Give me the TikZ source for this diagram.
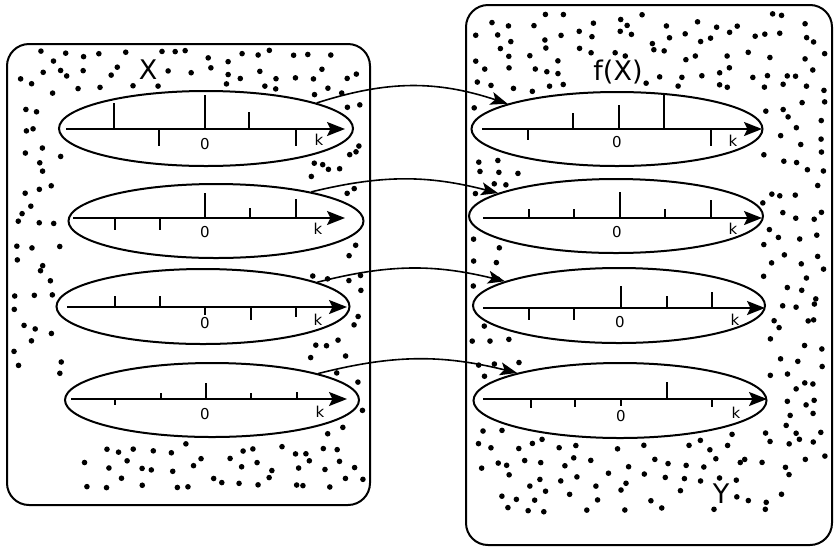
\documentclass[tikz,border=0pt]{standalone}
\usepackage{fontspec}
\setmainfont{DejaVu Sans}
\usetikzlibrary{shapes.geometric,arrows.meta}

% one k-axis: name, x start, x tip, axis y, ticks (x/offset), zero label x,y, k label x,y
\newcommand\kaxis[9]{%
  \draw[axisarrow] (#2,#4) -- (#3,#4);
  \foreach \tx/\tl in {#5} \draw (\tx,#4) -- ++(0,\tl);
  \node[smalllabel] (#1zero) at (#6,#7) {0};
  \node[smalllabel] (#1k) at (#8,#9) {k};
}

% points of a set: a jittered grid (origin x,y; columns; rows; forbidden zone),
% kept clear of the slices and the set labels
\newcommand\jitterdots[5]{%
  \foreach \i in {1,...,#3}{%
    \foreach \j in {1,...,#4}{%
      \pgfmathsetmacro\px{#1+(\i-1+0.1+0.8*rnd)*17}%
      \pgfmathsetmacro\py{#2+(\j-1+0.1+0.8*rnd)*17}%
      \pgfmathsetmacro\clear{min(
        ((\px-206)/153)^2+((\py-128.5)/43)^2,
        ((\px-216)/154)^2+((\py-221)/43)^2,
        ((\px-203)/152)^2+((\py-306.5)/43)^2,
        ((\px-212)/153)^2+((\py-400)/43)^2,
        ((\px-617)/151)^2+((\py-129)/43)^2,
        ((\px-616)/153)^2+((\py-216)/43)^2,
        ((\px-619)/152)^2+((\py-305.5)/43)^2,
        ((\px-620)/152)^2+((\py-400.5)/43)^2,
        ((\px-148)/20)^2+((\py-70)/17)^2,
        ((\px-722)/15)^2+((\py-494)/15)^2)}%
      \pgfmathtruncatemacro\keep{(\clear>1) && !(#5) && (rnd>0.1)}%
      \ifnum\keep=1 \fill[speck] (\px,\py) circle[radius=2.8];\fi
    }}}

\begin{document}
\begin{tikzpicture}[x=1pt,y=-1pt,line width=2pt,
  setbox/.style={draw,rectangle,rounded corners=22pt,inner sep=0pt},
  slice/.style={draw,ellipse,inner sep=0pt},
  axisarrow/.style={-{Stealth[length=18pt,width=14pt,inset=3.5pt]}},
  mapsto/.style={line width=1.6pt,-{Stealth[length=17pt,width=13pt,inset=4pt]}},
  speck/.style={fill=black},
  biglabel/.style={font=\fontsize{27}{30}\selectfont,inner sep=0pt},
  smalllabel/.style={font=\fontsize{15}{17}\selectfont,inner sep=0pt}]

\useasboundingbox (0,0) rectangle (834,547);

% the two sets
\node[setbox,minimum width=363pt,minimum height=461pt] (X) at (188.5,274.5) {};
\node[setbox,minimum width=366pt,minimum height=540pt] (Y) at (649,275) {};

\pgfmathsetseed{2718}
\jitterdots{12}{48}{21}{26}{(\px>66 && \px<310 && \py>90 && \py<440) || (\px<78 && \py>378)
  || (\py>488) || (\px>363) || (\px<24 && \py<62) || (\px>350 && \py<62)}
\jitterdots{470}{12}{21}{30}{(\px>523 && \px<762 && \py>92 && \py<432) || (\py>512)
  || (\px<500 && \py>485) || (\px>790 && \py>462) || (\px>826)
  || (((\px-618)/38)^2+((\py-72)/16)^2<1) || (\px<488 && \py<24) || (\px>812 && \py<24)}

\node[biglabel] (Xlabel) at (148,70) {X};
\node[biglabel] (fXlabel) at (618,72) {f(X)};
\node[biglabel] (Ylabel) at (721,494) {Y};

% slices of X
\node[slice,minimum width=294pt,minimum height=75pt] (L1) at (206,128.5) {};
\node[slice,minimum width=295pt,minimum height=74pt] (L2) at (216,221) {};
\node[slice,minimum width=293pt,minimum height=75pt] (L3) at (203,306.5) {};
\node[slice,minimum width=294pt,minimum height=74pt] (L4) at (212,400) {};

% slices of f(X)
\node[slice,minimum width=291pt,minimum height=74pt] (R1) at (617,129) {};
\node[slice,minimum width=294pt,minimum height=74pt] (R2) at (616,216) {};
\node[slice,minimum width=292pt,minimum height=75pt] (R3) at (619,305.5) {};
\node[slice,minimum width=293pt,minimum height=75pt] (R4) at (620,400.5) {};

\kaxis{L1}{66}{345}{129}{114/-26,159/17,205/-34,249/-17,296/17}{205}{144}{319}{140}
\kaxis{L2}{73}{345}{218}{115/12,160/12,205/-25,250/-10,296/-19}{205}{232}{318}{229}
\kaxis{L3}{67}{347}{307}{115/-11,160/-11,205/8,251/13,296/10}{205}{323}{318}{320}
\kaxis{L4}{71}{347}{399}{115/6,161/-6,206/-16,251/-6,297/-7}{205}{414}{320}{412}

\kaxis{R1}{482}{762}{129}{528/11,573/-16,619/-24,664/-34,711/17}{617}{142}{733}{141}
\kaxis{R2}{483}{762}{218}{529/-9,574/-9,620/-26,665/-9,711/-18}{617}{232}{733}{229}
\kaxis{R3}{483}{765}{308}{529/12,574/12,621/-22,667/-12,712/-16}{620}{322}{735}{320}
\kaxis{R4}{483}{767}{399}{531/9,575/8,621/7,667/-17,712/8}{621}{416}{736}{413}

% the map f, slice by slice
\draw[mapsto] (L1.13) to[bend left=18] (R1.167);
\draw[mapsto] (L2.17) to[bend left=14] (R2.169);
\draw[mapsto] (L3.12) to[bend left=14] (R3.168);
\draw[mapsto] (L4.14) to[bend left=14] (R4.165);
\end{tikzpicture}
\end{document}
